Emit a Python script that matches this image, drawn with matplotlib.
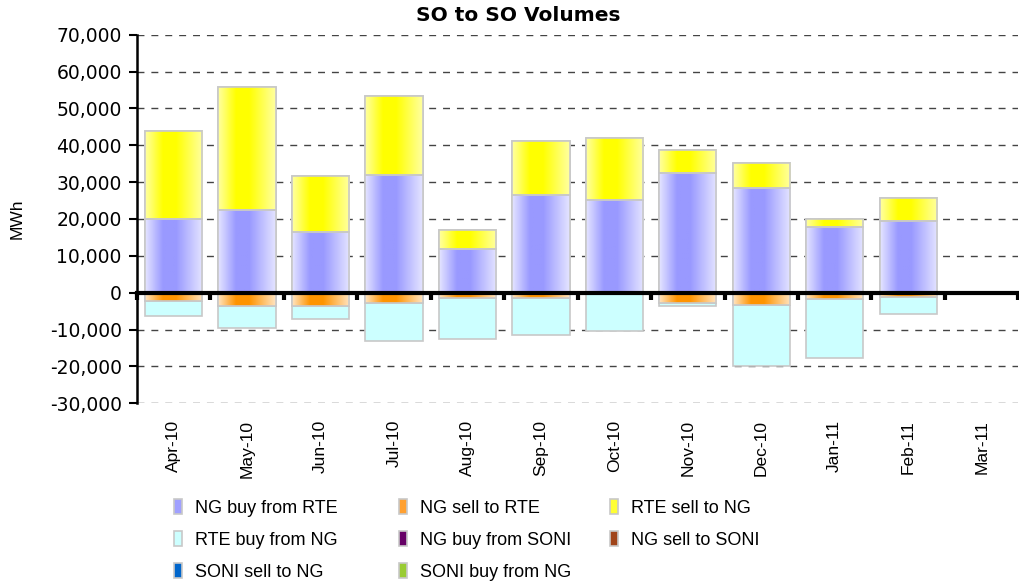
import matplotlib
matplotlib.use("Agg")
import matplotlib.pyplot as plt
import numpy as np
from matplotlib.colors import to_rgb
from matplotlib.ticker import FuncFormatter

plt.rcParams['font.family'] = ['Liberation Sans', 'DejaVu Sans']
WIDE = 'DejaVu Sans'

months = ["Apr-10", "May-10", "Jun-10", "Jul-10", "Aug-10", "Sep-10",
          "Oct-10", "Nov-10", "Dec-10", "Jan-11", "Feb-11", "Mar-11"]

# MWh
ng_buy_rte = [19970, 22520, 16550, 32010, 11830, 26480, 25230, 32370, 28490, 17800, 19350, 0]
rte_sell_ng = [23870, 33180, 15000, 21250, 5270, 14570, 16720, 6330, 6680, 2280, 6320, 0]
ng_sell_rte = [-2280, -3530, -3530, -2710, -1460, -1550, -100, -2710, -3260, -1630, -1090, 0]
rte_buy_ng = [-3960, -5970, -3710, -10310, -11210, -9950, -10210, -820, -16540, -16110, -4800, 0]
ng_buy_soni = [0] * 12
ng_sell_soni = [0] * 12
soni_sell_ng = [0] * 12
soni_buy_ng = [0] * 12

x = np.arange(len(months))
w = 0.78

fig = plt.figure(figsize=(10.19, 5.84), dpi=100)
ax = fig.add_axes([0.1344, 0.3094, 0.865, 0.6312])


def grad(light, dark, n=64):
    # light at the edges, strongest a bit left of centre
    t = np.linspace(0, 1, n)
    f = np.where(t < 0.4, t / 0.4, 1 - (t - 0.4) / 0.6)
    f = np.clip(f * 1.3, 0, 1)
    l, d = np.array(to_rgb(light)), np.array(to_rgb(dark))
    return (l[None, :] * (1 - f[:, None]) + d[None, :] * f[:, None])[None, :, :]


series = [
    ("NG buy from RTE", ng_buy_rte, None, "#A0A0FF", ("#E4E4FF", "#9999FF")),
    ("RTE sell to NG", rte_sell_ng, ng_buy_rte, "#FFFF33", ("#FFFFA0", "#FFFF00")),
    ("NG sell to RTE", ng_sell_rte, None, "#FFA030", ("#FFE4C0", "#FF9400")),
    ("RTE buy from NG", rte_buy_ng, ng_sell_rte, "#CCFFFF", None),
    ("NG buy from SONI", ng_buy_soni, None, "#660066", None),
    ("NG sell to SONI", ng_sell_soni, None, "#A0441A", None),
    ("SONI sell to NG", soni_sell_ng, None, "#0066CC", None),
    ("SONI buy from NG", soni_buy_ng, None, "#99CC33", None),
]

handles = {}
for name, vals, base, col, g in series:
    bars = ax.bar(x, vals, w, bottom=base, color=col, edgecolor="#C8C8C8",
                  linewidth=1.2, zorder=2, label=name)
    handles[name] = bars
    if g is not None:
        img = grad(*g)
        for p in bars.patches:
            if p.get_height() == 0:
                continue
            x0, y0 = p.get_x(), p.get_y()
            im = ax.imshow(img, extent=[x0, x0 + p.get_width(), y0, y0 + p.get_height()],
                           aspect="auto", zorder=2.5, interpolation="bilinear")
            im.set_clip_path(p)
        ax.bar(x, vals, w, bottom=base, fill=False, edgecolor="#C8C8C8",
               linewidth=1.2, zorder=3)

ax.set_xlim(-0.5, 11.5)
ax.set_ylim(-30000, 70000)
yt = np.arange(-30000, 70001, 10000)
ax.set_yticks(yt, labels=[f"{v:,}" for v in yt], fontfamily=WIDE, fontsize=13.5)
ax.tick_params(axis="y", direction="out", length=6, width=1.5, pad=5)
ax.yaxis.grid(True, linestyle=(0, (5, 5)), color="#444444", linewidth=1)
ax.set_axisbelow(True)

for s in ["top", "right"]:
    ax.spines[s].set_visible(False)
ax.spines["left"].set_linewidth(1.8)
ax.spines["bottom"].set_position(("data", 0))
ax.spines["bottom"].set_linewidth(3)
ax.spines["bottom"].set_zorder(4)
ax.set_xticks(np.arange(-0.5, 12, 1))
ax.tick_params(axis="x", direction="out", length=5, width=3, labelbottom=False)

sec = ax.secondary_xaxis("bottom")
sec.set_xticks(x, labels=months, rotation=90, fontsize=12.5)
sec.tick_params(length=0, pad=12)
sec.spines["bottom"].set_visible(False)

ax.set_ylabel("MWh", fontsize=12.5)
ax.yaxis.set_label_coords(-0.128, 0.5)
fig.text(0.509, 0.974, "SO to SO Volumes", ha="center", va="center",
         fontsize=14.5, fontweight="bold", fontfamily=WIDE)

columns = [["NG buy from RTE", "RTE buy from NG", "SONI sell to NG"],
           ["NG sell to RTE", "NG buy from SONI", "SONI buy from NG"],
           ["RTE sell to NG", "NG sell to SONI"]]
for cx, names in zip([0.1708, 0.3916, 0.5986], columns):
    leg = fig.legend([handles[k] for k in names], names, loc="upper left",
                     bbox_to_anchor=(cx, 0.1455), frameon=False, fontsize=13,
                     handlelength=0.45, handleheight=0.9, handletextpad=0.7,
                     labelspacing=0.8, borderaxespad=0, borderpad=0)

fig.savefig("out.png", dpi=100)
